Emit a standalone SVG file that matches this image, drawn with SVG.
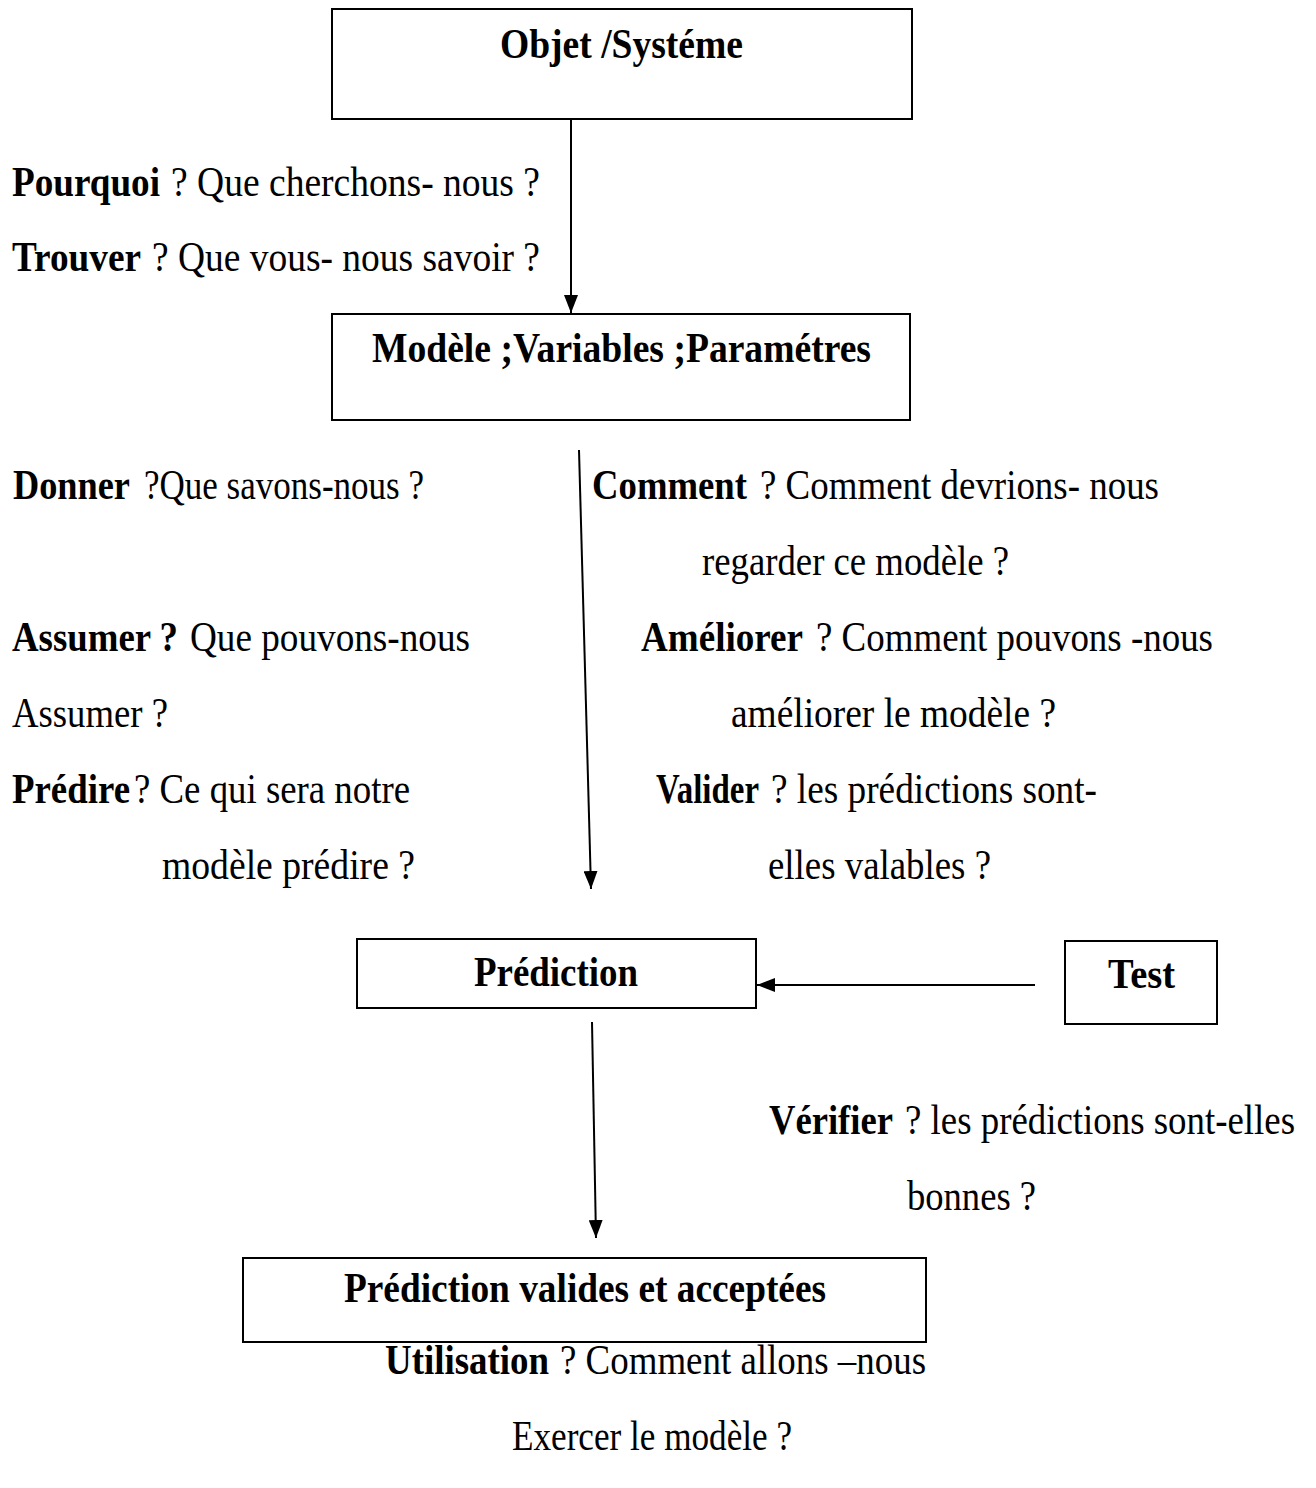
<svg xmlns="http://www.w3.org/2000/svg" width="1316" height="1488" viewBox="0 0 1316 1488">
<defs>
<style>
text{font-family:"Liberation Serif","Times New Roman",serif;font-size:42px;fill:#000}
.b{font-weight:bold}
.box{fill:#fff;stroke:#000;stroke-width:2}
.c{stroke:#000;stroke-width:2;fill:none}
</style>
<marker id="ah" viewBox="0 0 18 14" refX="18" refY="7" markerWidth="18" markerHeight="14" markerUnits="userSpaceOnUse" orient="auto">
<path d="M0,0 L18,7 L0,14 Z" fill="#000"/>
</marker>
</defs>
<rect x="0" y="0" width="1316" height="1488" fill="#fff"/>
<g id="connectors">
<line class="c" x1="571" y1="119" x2="571" y2="313" marker-end="url(#ah)"/>
<line class="c" x1="579" y1="450" x2="591" y2="889" marker-end="url(#ah)"/>
<line class="c" x1="1035" y1="985" x2="757" y2="985" marker-end="url(#ah)"/>
<line class="c" x1="592" y1="1022" x2="596" y2="1238" marker-end="url(#ah)"/>
</g>
<g id="n1"><rect class="box" x="332" y="9" width="580" height="110"/><text x="500" y="58" class="b" textLength="243" lengthAdjust="spacingAndGlyphs">Objet /Systéme</text></g>
<g id="n2"><rect class="box" x="332" y="314" width="578" height="106"/><text x="372" y="362" class="b" textLength="499" lengthAdjust="spacingAndGlyphs">Modèle ;Variables ;Paramétres</text></g>
<g id="n3"><rect class="box" x="357" y="939" width="399" height="69"/><text x="474" y="986" class="b" textLength="164" lengthAdjust="spacingAndGlyphs">Prédiction</text></g>
<g id="n4"><rect class="box" x="1065" y="941" width="152" height="83"/><text x="1108" y="988" class="b" textLength="67" lengthAdjust="spacingAndGlyphs">Test</text></g>
<g id="n5"><rect class="box" x="243" y="1258" width="683" height="84"/><text x="344" y="1302" class="b" textLength="482" lengthAdjust="spacingAndGlyphs">Prédiction valides et acceptées</text></g>
<g id="labels">
<text x="12" y="196" class="b" textLength="148" lengthAdjust="spacingAndGlyphs">Pourquoi</text>
<text x="171" y="196" textLength="369" lengthAdjust="spacingAndGlyphs">? Que cherchons- nous ?</text>
<text x="12" y="271" class="b" textLength="129" lengthAdjust="spacingAndGlyphs">Trouver</text>
<text x="152" y="271" textLength="388" lengthAdjust="spacingAndGlyphs">? Que vous- nous savoir ?</text>
<text x="13" y="499" class="b" textLength="117" lengthAdjust="spacingAndGlyphs">Donner</text>
<text x="144" y="499" textLength="280" lengthAdjust="spacingAndGlyphs">?Que savons-nous ?</text>
<text x="592" y="499" class="b" textLength="155" lengthAdjust="spacingAndGlyphs">Comment</text>
<text x="760" y="499" textLength="399" lengthAdjust="spacingAndGlyphs">? Comment devrions- nous</text>
<text x="702" y="575" textLength="307" lengthAdjust="spacingAndGlyphs">regarder ce modèle ?</text>
<text x="12" y="651" class="b" textLength="166" lengthAdjust="spacingAndGlyphs">Assumer ?</text>
<text x="190" y="651" textLength="280" lengthAdjust="spacingAndGlyphs">Que pouvons-nous</text>
<text x="641" y="651" class="b" textLength="162" lengthAdjust="spacingAndGlyphs">Améliorer</text>
<text x="816" y="651" textLength="397" lengthAdjust="spacingAndGlyphs">? Comment pouvons -nous</text>
<text x="12" y="727" textLength="156" lengthAdjust="spacingAndGlyphs">Assumer ?</text>
<text x="731" y="727" textLength="325" lengthAdjust="spacingAndGlyphs">améliorer le modèle ?</text>
<text x="12" y="803" class="b" textLength="118" lengthAdjust="spacingAndGlyphs">Prédire</text>
<text x="134" y="803" textLength="276" lengthAdjust="spacingAndGlyphs">? Ce qui sera notre</text>
<text x="656" y="803" class="b" textLength="103" lengthAdjust="spacingAndGlyphs">Valider</text>
<text x="771" y="803" textLength="326" lengthAdjust="spacingAndGlyphs">? les prédictions sont-</text>
<text x="162" y="879" textLength="253" lengthAdjust="spacingAndGlyphs">modèle prédire ?</text>
<text x="768" y="879" textLength="223" lengthAdjust="spacingAndGlyphs">elles valables ?</text>
<text x="769" y="1134" class="b" textLength="124" lengthAdjust="spacingAndGlyphs">Vérifier</text>
<text x="905" y="1134" textLength="390" lengthAdjust="spacingAndGlyphs">? les prédictions sont-elles</text>
<text x="907" y="1210" textLength="129" lengthAdjust="spacingAndGlyphs">bonnes ?</text>
<text x="385" y="1374" class="b" textLength="164" lengthAdjust="spacingAndGlyphs">Utilisation</text>
<text x="560" y="1374" textLength="366" lengthAdjust="spacingAndGlyphs">? Comment allons –nous</text>
<text x="512" y="1450" textLength="280" lengthAdjust="spacingAndGlyphs">Exercer le modèle ?</text>
</g>
</svg>
